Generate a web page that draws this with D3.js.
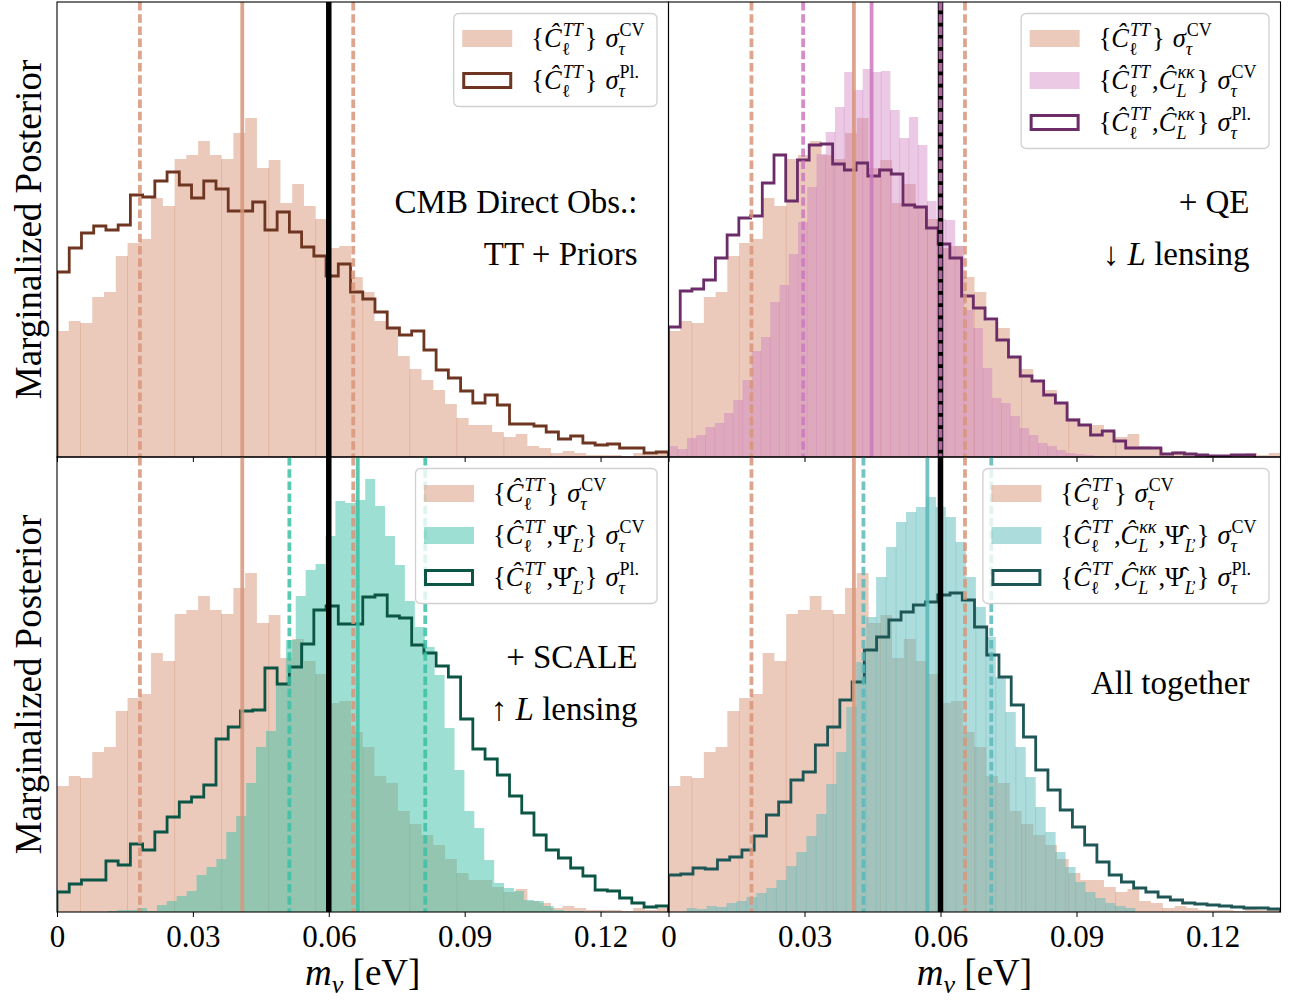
<!DOCTYPE html>
<html>
<head>
<meta charset="utf-8">
<script src="https://cdn.jsdelivr.net/npm/d3@7"></script>
<style>
  body { margin: 0; background: #fff; }
  svg { display: block; }
</style>
</head>
<body>
<svg id="chart" width="1297" height="1000"></svg>
<script>
// ---- data (heights in arbitrary density units) ----
const xDomain = [0, 0.135];
const xTicks = [0, 0.03, 0.06, 0.09, 0.12];
const yMax = 45.5;
const mFiducial = 0.06;

// {C_TT} sigma_tau^CV  (shown in every panel)
const ttCvStart = 0, ttCvWidth = 0.0025962;
const ttCv = [12.6, 13.6, 13.4, 16.0, 16.5, 20.1, 21.4, 21.8, 25.9, 25.1, 29.8, 30.2, 31.6, 30.2, 29.8, 32.4,
  33.9, 28.9, 29.7, 25.4, 27.3, 25.1, 23.8, 20.9, 21.1, 18.0, 16.5, 13.6, 12.9, 10.1, 8.8, 7.7, 6.7, 5.3,
  3.9, 3.2, 3.2, 2.5, 2.0, 2.3, 1.1, 0.9, 0.4, 0.6, 0.4, 0.2, 0.2, 0.2, 0.1, 0.4, 0.2, 0.4];
const ttCvLines = [0.0183, 0.0409, 0.0654];   // lo, mid, hi

// {C_TT} sigma_tau^Pl.
const ttPlStart = 0, ttPlWidth = 0.0027;
const ttPl = [18.5, 20.9, 22.4, 23.1, 22.7, 23.2, 26.2, 26.0, 27.6, 28.5, 27.2, 25.9, 27.6, 26.8, 24.6, 24.6,
  25.5, 22.7, 24.5, 22.5, 21.0, 20.1, 18.1, 19.3, 16.5, 15.8, 14.5, 12.9, 12.2, 12.6, 10.7, 8.7, 7.9, 6.6,
  5.4, 6.2, 5.2, 3.3, 3.3, 3.1, 2.5, 1.8, 2.1, 1.4, 1.2, 1.3, 0.9, 0.9, 0.4, 0.5];

// {C_TT, C_kk} sigma_tau^CV
const kkCvStart = 0, kkCvWidth = 0.00204;
const kkCv = [1.1, 0.8, 1.9, 2.2, 3.0, 3.4, 4.4, 5.7, 7.7, 10.6, 12.0, 15.5, 17.2, 20.3, 23.5, 27.0, 30.3,
  32.5, 35.0, 38.5, 36.7, 38.8, 38.5, 38.6, 34.7, 31.9, 34.0, 31.2, 25.6, 23.8, 23.7, 21.1, 14.7, 12.9, 8.9,
  5.9, 5.4, 4.1, 2.9, 2.2, 1.4, 1.1, 0.7, 0.4, 0.3, 0.2, 0.1, 0.05, 0, 0];
const kkCvLines = [0.0297, 0.0448, 0.0600];

// {C_TT, C_kk} sigma_tau^Pl.
const kkPlStart = 0, kkPlWidth = 0.002586;
const kkPl = [13.0, 16.6, 16.8, 17.7, 19.9, 22.2, 23.9, 24.1, 27.4, 30.2, 25.6, 29.7, 31.2, 31.3, 29.3, 28.7,
  29.4, 28.1, 28.7, 28.3, 25.2, 25.0, 22.9, 21.3, 19.9, 16.1, 14.9, 13.8, 11.7, 10.0, 8.1, 7.6, 6.2, 5.4,
  3.7, 3.2, 2.2, 2.6, 1.6, 0.9, 0.9, 0.9, 0.3, 0.4, 0.3, 0.2, 0.1, 0.1, 0.2, 0.2];

// {C_TT, Psi} sigma_tau^CV
const psiCvStart = 0.0111, psiCvWidth = 0.00219;
const psiCv = [0.1, 0.2, 0.2, 0.4, 0.1, 0.7, 1.1, 1.6, 2.1, 3.7, 4.5, 5.3, 8.0, 9.6, 12.9, 16.5, 18.1, 22.9,
  27.2, 31.6, 34.2, 34.8, 37.6, 41.1, 40.9, 41.2, 43.3, 40.6, 37.6, 34.7, 31.1, 28.5, 26.5, 23.7, 18.4, 14.2,
  10.1, 8.4, 5.2, 2.9, 2.4, 2.1, 1.2, 1.1, 0.6, 0.2, 0.1, 0.1, 0, 0.05];
const psiCvLines = [0.0513, 0.0664, 0.0813];

// {C_TT, Psi} sigma_tau^Pl.
const psiPlStart = 0, psiPlWidth = 0.0027;
const psiPl = [2.0, 2.8, 3.2, 3.2, 5.1, 4.7, 6.8, 6.2, 8.0, 9.5, 11.0, 11.5, 12.7, 17.3, 18.5, 20.1, 20.2,
  24.4, 22.8, 24.5, 26.8, 30.2, 30.6, 28.8, 28.8, 31.5, 31.7, 29.6, 29.4, 26.7, 25.9, 24.6, 23.5, 19.3,
  16.3, 15.3, 13.7, 11.6, 9.9, 7.7, 6.2, 5.4, 4.4, 3.6, 2.2, 2.1, 1.4, 0.9, 0.5, 0.6];

// {C_TT, C_kk, Psi} sigma_tau^CV
const allCvStart = 0.004, allCvWidth = 0.0022;
const allCv = [0.4, 0.3, 0.6, 0.5, 0.9, 1.1, 1.5, 1.9, 2.4, 3.2, 4.6, 6.0, 7.6, 9.8, 12.8, 16.0, 20.5, 25.0,
  29.5, 33.5, 36.5, 39.0, 40.0, 40.5, 41.5, 40.5, 39.5, 37.0, 33.5, 30.5, 27.5, 23.5, 20.0, 16.5, 13.5,
  10.5, 8.0, 6.0, 4.5, 3.0, 2.0, 1.4, 0.9, 0.6, 0.4];
const allCvLines = [0.0430, 0.0571, 0.0712];

// {C_TT, C_kk, Psi} sigma_tau^Pl.
const allPlStart = 0, allPlWidth = 0.0027;
const allPl = [3.7, 3.8, 4.4, 4.3, 5.2, 5.5, 6.2, 7.6, 9.7, 11.0, 13.2, 14.0, 16.7, 18.5, 21.2, 23.0, 26.2,
  27.5, 29.2, 30.0, 30.7, 31.0, 31.7, 31.9, 31.2, 28.5, 25.7, 23.5, 20.7, 17.5, 14.2, 12.2, 10.2, 8.5, 6.7,
  5.0, 3.7, 3.0, 2.4, 2.0, 1.5, 1.2, 0.9, 0.8, 0.7, 0.6, 0.5, 0.4, 0.4, 0.3];

const panelNotes = [
  [['CMB Direct Obs.:'], ['TT + Priors']],
  [['+ QE'], ['↓ ', {it: 'L'}, ' lensing']],
  [['+ SCALE'], ['↑ ', {it: 'L'}, ' lensing']],
  [['All together']]
];

// ---- styling ----
const FONT = '"Liberation Serif", "DejaVu Serif", serif';
const color = {
  tt: '#d8957a',
  ttPl: '#6e3520',
  kk: '#cc79be',
  kkPl: '#6b2c68',
  psi: '#3cc0a5',
  psiPl: '#0b5544',
  all: '#5ab9b9',
  allPl: '#1e5656'
};

const cols = [[57, 668.5], [668.5, 1280.5]];
const rows = [[2, 457], [457, 912]];

const svg = d3.select('#chart');
const defs = svg.append('defs');

function hist(start, width, values) {
  return values.map((v, i) => ({ x0: start + i * width, x1: start + (i + 1) * width, v }));
}

// legend label pieces
const C_TT = { t: 'Ĉ', it: true, sup: 'TT', supIt: true, sub: 'ℓ' };
const C_KK = { t: 'Ĉ', it: true, sup: 'κκ', supIt: true, sub: 'L', subIt: true };
const PSI = { t: 'Ψ\u0302', sub: 'L\u030C', subIt: true };
const SIG_CV = { t: 'σ', it: true, sup: 'CV', sub: 'τ', subIt: true };
const SIG_PL = { t: 'σ', it: true, sup: 'Pl.', sub: 'τ', subIt: true };

function label(items, sigma) {
  const parts = [{ t: '{' }];
  items.forEach((it, i) => {
    if (i > 0) parts.push({ t: ',' });
    parts.push(it);
  });
  parts.push({ t: '}' }, { sp: 0.3 }, sigma);
  return parts;
}

const panels = [
  {
    col: 0, row: 0,
    fills: [], step: hist(ttPlStart, ttPlWidth, ttPl), stepColor: color.ttPl, lines: [],
    legend: [
      { type: 'fill', color: color.tt, parts: label([C_TT], SIG_CV) },
      { type: 'step', color: color.ttPl, parts: label([C_TT], SIG_PL) }
    ]
  },
  {
    col: 1, row: 0,
    fills: [{ data: hist(kkCvStart, kkCvWidth, kkCv), color: color.kk, op: 0.4, seam: [1, 1] }],
    step: hist(kkPlStart, kkPlWidth, kkPl), stepColor: color.kkPl,
    lines: [{ vals: kkCvLines, color: color.kk }],
    legend: [
      { type: 'fill', color: color.tt, parts: label([C_TT], SIG_CV) },
      { type: 'fill', color: color.kk, op: 0.4, parts: label([C_TT, C_KK], SIG_CV) },
      { type: 'step', color: color.kkPl, parts: label([C_TT, C_KK], SIG_PL) }
    ]
  },
  {
    col: 0, row: 1,
    fills: [{ data: hist(psiCvStart, psiCvWidth, psiCv), color: color.psi, op: 0.5, seam: null }],
    step: hist(psiPlStart, psiPlWidth, psiPl), stepColor: color.psiPl,
    lines: [{ vals: psiCvLines, color: color.psi }],
    legend: [
      { type: 'fill', color: color.tt, parts: label([C_TT], SIG_CV) },
      { type: 'fill', color: color.psi, op: 0.5, parts: label([C_TT, PSI], SIG_CV) },
      { type: 'step', color: color.psiPl, parts: label([C_TT, PSI], SIG_PL) }
    ]
  },
  {
    col: 1, row: 1,
    fills: [{ data: hist(allCvStart, allCvWidth, allCv), color: color.all, op: 0.5, seam: [1, 1] }],
    step: hist(allPlStart, allPlWidth, allPl), stepColor: color.allPl,
    lines: [{ vals: allCvLines, color: color.all }],
    legend: [
      { type: 'fill', color: color.tt, parts: label([C_TT], SIG_CV) },
      { type: 'fill', color: color.all, op: 0.5, parts: label([C_TT, C_KK, PSI], SIG_CV) },
      { type: 'step', color: color.allPl, parts: label([C_TT, C_KK, PSI], SIG_PL) }
    ]
  }
];

// lay out a small math-like label; returns its width
function mathText(g, x, y, parts, fs) {
  let cx = x;
  parts.forEach(p => {
    if (p.sp) { cx += p.sp * fs; return; }
    const t = g.append('text')
      .attr('x', cx).attr('y', y)
      .attr('font-size', fs)
      .attr('font-style', p.it ? 'italic' : 'normal')
      .text(p.t);
    const w = t.node().getComputedTextLength();
    let extra = 0;
    if (p.sup) {
      const s = g.append('text')
        .attr('x', cx + w + 1).attr('y', y - 0.42 * fs)
        .attr('font-size', 0.68 * fs)
        .attr('font-style', p.supIt ? 'italic' : 'normal')
        .text(p.sup);
      extra = Math.max(extra, s.node().getComputedTextLength() + 1);
    }
    if (p.sub) {
      const s = g.append('text')
        .attr('x', cx + w).attr('y', y + 0.3 * fs)
        .attr('font-size', 0.68 * fs)
        .attr('font-style', p.subIt ? 'italic' : 'normal')
        .text(p.sub);
      extra = Math.max(extra, s.node().getComputedTextLength());
    }
    cx += w + extra + (p.sup || p.sub ? 2 : 0);
  });
  return cx - x;
}

const areaFor = (x, y) => d3.area()
  .curve(d3.curveStepAfter)
  .x(d => x(d[0]))
  .y0(y(0))
  .y1(d => y(d[1]));

function stepPoints(bins) {
  const pts = [[bins[0].x0, 0]];
  bins.forEach(b => pts.push([b.x0, b.v]));
  pts.push([bins[bins.length - 1].x1, 0]);
  return pts;
}
function fillPoints(bins) {
  const pts = bins.map(b => [b.x0, b.v]);
  pts.push([bins[bins.length - 1].x1, bins[bins.length - 1].v]);
  return pts;
}

// faint seams where neighbouring bars overlap (as in the rasterised original)
function drawSeams(g, bins, x, y, col, op, every, offset) {
  const edges = bins.slice(1)
    .map((b, i) => ({ i: i + 1, at: b.x0, h: Math.min(b.v, bins[i].v) }))
    .filter(e => (e.i - offset) % every === 0 && e.h > 0.3);
  g.selectAll(null).data(edges).enter().append('line')
    .attr('x1', e => x(e.at)).attr('x2', e => x(e.at))
    .attr('y1', y(0)).attr('y2', e => y(e.h))
    .attr('stroke', col).attr('stroke-opacity', op).attr('stroke-width', 1);
}

panels.forEach((p, pi) => {
  const [xa, xb] = cols[p.col];
  const [ya, yb] = rows[p.row];
  const x = d3.scaleLinear().domain(xDomain).range([xa, xb]);
  const y = d3.scaleLinear().domain([0, yMax]).range([yb, ya]);

  defs.append('clipPath').attr('id', 'clip' + pi)
    .append('rect').attr('x', xa).attr('y', ya).attr('width', xb - xa).attr('height', yb - ya);

  const g = svg.append('g').attr('class', 'panel');
  const plot = g.append('g').attr('clip-path', `url(#clip${pi})`);

  const area = areaFor(x, y);
  const line = d3.line().curve(d3.curveStepAfter).x(d => x(d[0])).y(d => y(d[1]));

  // reference TT histogram
  const ttBins = hist(ttCvStart, ttCvWidth, ttCv);
  plot.append('path')
    .attr('d', area(fillPoints(ttBins)))
    .attr('fill', color.tt).attr('fill-opacity', 0.5);
  drawSeams(plot, ttBins, x, y, color.tt, 0.4, 4, 2);

  p.fills.forEach(f => {
    plot.append('path')
      .attr('d', area(fillPoints(f.data)))
      .attr('fill', f.color).attr('fill-opacity', f.op);
    if (f.seam) drawSeams(plot, f.data, x, y, f.color, 0.3, f.seam[0], f.seam[1]);
  });

  plot.append('path')
    .attr('d', line(stepPoints(p.step)))
    .attr('fill', 'none')
    .attr('stroke', p.stepColor)
    .attr('stroke-width', 2.8)
    .attr('stroke-linejoin', 'miter');

  const vline = (v, col, dash, op, w) => plot.append('line')
    .attr('x1', x(v)).attr('x2', x(v)).attr('y1', ya).attr('y2', yb)
    .attr('stroke', col).attr('stroke-opacity', op).attr('stroke-width', w)
    .attr('stroke-dasharray', dash ? '8.5,3.7' : null);

  vline(ttCvLines[1], color.tt, false, 0.85, 3.8);
  vline(ttCvLines[0], color.tt, true, 0.85, 3.8);
  vline(ttCvLines[2], color.tt, true, 0.85, 3.8);
  vline(mFiducial, '#000', false, 1, 5.5);
  p.lines.forEach(l => {
    vline(l.vals[1], l.color, false, 0.85, 3.8);
    vline(l.vals[0], l.color, true, 0.85, 3.8);
    vline(l.vals[2], l.color, true, 0.85, 3.8);
  });

  // x axis (ticks only on top row, labels on bottom row)
  const ax = g.append('g')
    .attr('transform', `translate(0,${yb})`)
    .call(d3.axisBottom(x).tickValues(xTicks).tickSize(5).tickPadding(8)
      .tickFormat(p.row === 1 ? (d => (d === 0 ? '0' : d3.format('.2f')(d))) : ''));
  ax.select('.domain').remove();
  ax.selectAll('.tick line').attr('stroke', '#000').attr('stroke-width', 1);
  ax.selectAll('.tick text')
    .attr('font-family', FONT).attr('font-size', 31).attr('fill', '#000');

  // frame
  g.append('rect')
    .attr('x', xa).attr('y', ya).attr('width', xb - xa).attr('height', yb - ya)
    .attr('fill', 'none').attr('stroke', '#000').attr('stroke-width', 1.1);

  // legend
  const leg = g.append('g').attr('font-family', FONT).attr('fill', '#000');
  const box = leg.append('rect');
  const rowsG = leg.append('g');
  let textW = 0;
  p.legend.forEach((e, i) => {
    const cy = 26 + i * 42;
    if (e.type === 'fill') {
      rowsG.append('rect').attr('x', 9).attr('y', cy - 9).attr('width', 50).attr('height', 17)
        .attr('fill', e.color).attr('fill-opacity', e.op || 0.5);
    } else {
      rowsG.append('rect').attr('x', 10.5).attr('y', cy - 7.5).attr('width', 47).attr('height', 14)
        .attr('fill', '#fff').attr('stroke', e.color).attr('stroke-width', 3);
    }
    textW = Math.max(textW, mathText(rowsG, 78, cy + 8, e.parts, 26.5));
  });
  const bw = 78 + textW + 10;
  const bh = p.legend.length * 42 + 9;
  box.attr('x', 0.5).attr('y', 0.5).attr('width', bw).attr('height', bh).attr('rx', 5)
    .attr('fill', '#fff').attr('fill-opacity', 0.8).attr('stroke', '#d0d0d0').attr('stroke-width', 1.3);
  leg.attr('transform', `translate(${xb - 12 - bw},${ya + 11})`);

  // panel annotation
  const notes = panelNotes[pi];
  const noteY = notes.length === 1 ? [ya + 237] : [ya + 211, ya + 263];
  notes.forEach((ln, k) => {
    const t = g.append('text')
      .attr('x', xb - 31).attr('y', noteY[k])
      .attr('text-anchor', 'end')
      .attr('font-family', FONT).attr('font-size', 33).attr('fill', '#000');
    ln.forEach(seg => {
      if (typeof seg === 'string') t.append('tspan').text(seg);
      else t.append('tspan').attr('font-style', 'italic').text(seg.it);
    });
  });
});

// y labels
rows.forEach(([ya, yb]) => {
  svg.append('text')
    .attr('transform', `translate(41,${(ya + yb) / 2}) rotate(-90)`)
    .attr('text-anchor', 'middle')
    .attr('font-family', FONT).attr('font-size', 37).attr('fill', '#000')
    .text('Marginalized Posterior');
});

// x labels
cols.forEach(([xa, xb]) => {
  const t = svg.append('text')
    .attr('x', (xa + xb) / 2).attr('y', 985)
    .attr('text-anchor', 'middle')
    .attr('font-family', FONT).attr('font-size', 37).attr('fill', '#000');
  t.append('tspan').attr('font-style', 'italic').text('m');
  t.append('tspan').attr('font-style', 'italic').attr('font-size', 26).attr('dy', 8).text('ν');
  t.append('tspan').attr('dy', -8).text(' [eV]');
});
</script>
</body>
</html>
